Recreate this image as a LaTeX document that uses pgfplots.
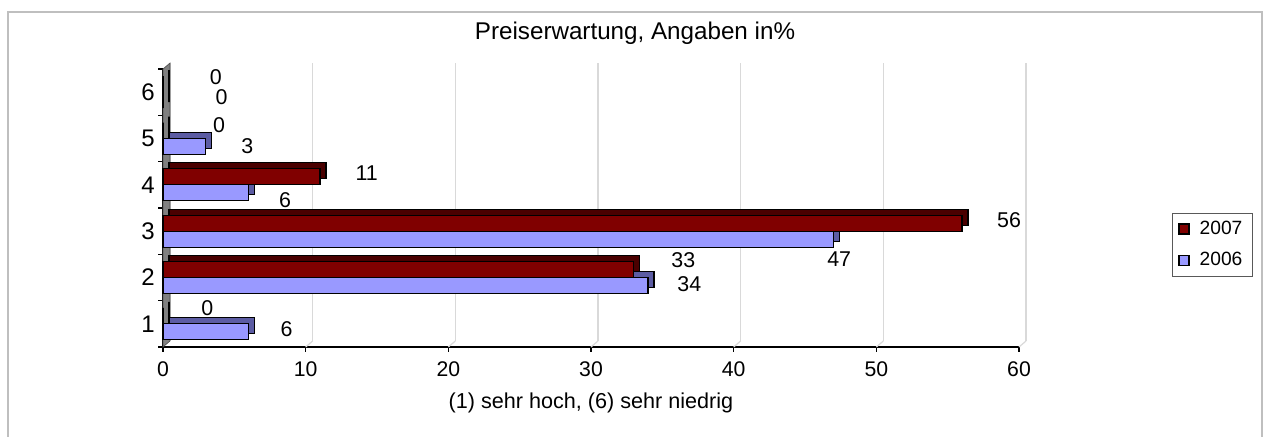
\documentclass[border=0pt]{standalone}
\usepackage{pgfplots}
\pgfplotsset{compat=1.18}
\usepackage{pgfplotstable}
\usepackage{fontspec}
\setmainfont{Liberation Sans}
\definecolor{barred}{HTML}{800000}
\definecolor{barredside}{HTML}{4A0000}
\definecolor{barblue}{HTML}{9999FF}
\definecolor{barblueside}{HTML}{5C5CA3}
\pgfplotsset{sqlegend/.style={legend image code/.code={\draw[##1, line width=0.6pt] (-1pt,-2.5pt) rectangle (4pt,2.5pt);}}}

\pgfplotstableread{
c v
1 6
2 34
3 47
4 6
5 3
6 0
}\dataA
\pgfplotstableread{
c v
1 0
2 33
3 56
4 11
5 0
6 0
}\dataB
\pgfplotstableread{
x y lab
3.11 1.34 0
36.47 2.37 33
59.30 3.23 56
14.28 4.25 11
3.93 5.29 0
3.71 6.33 0
8.67 0.89 6
36.89 1.85 34
47.40 2.40 47
8.55 3.67 6
5.91 4.84 3
4.11 5.89 0
}\labs

\begin{document}
\begin{tikzpicture}
\begin{axis}[
  scale only axis, width=428pt, height=139pt,
  xmin=0, xmax=60, ymin=0.5, ymax=6.5,
  clip=false,
  xtick={0,10,...,60},
  ytick={0.5,1.5,...,6.5}, yticklabels={1,2,3,4,5,6,},
  axis x line*=bottom, axis y line*=left,
  axis line style={black, line width=0.6pt},
  tick align=outside, major tick length=2.5pt,
  tick style={black, line width=0.6pt},
  xmajorgrids,
  grid style={gray!30, line width=0.6pt, xshift=3.5pt, yshift=3pt},
  /pgf/number format/assume math mode=true,
  x tick label style={font=\fontsize{10.6}{12}\selectfont, yshift=-1.5pt},
  y tick label style={font=\fontsize{12}{14}\selectfont, yshift=11.583pt, inner xsep=0pt, xshift=-1.5pt},
  xlabel={(1) sehr hoch, (6) sehr niedrig},
  x label style={at={(axis description cs:0.5,-0.2014)}, anchor=center, font=\fontsize{10.8}{12}\selectfont},
  title={Preiserwartung, Angaben in\%},
  title style={at={(axis description cs:0.5514,1.0863)}, anchor=center, font=\fontsize{12.1}{14}\selectfont},
  legend style={at={(axis description cs:1.1787,0.482)}, anchor=north west,
    draw=black!65, line width=0.5pt, font=\fontsize{9.6}{11}\selectfont,
    inner xsep=3pt, inner ysep=1.6pt, row sep=3.7pt,
    /tikz/every odd column/.append style={column sep=3pt}},
  legend cell align=left,
  reverse legend,
]
% left wall and floor edges
\addplot[forget plot, fill=gray, draw=black!70, line width=0.3pt] coordinates {(0,0.5) (0.4906,0.6295) (0.4906,6.6295) (0,6.5)} -- cycle;
\addplot[forget plot, gray!30, line width=0.6pt, unbounded coords=jump] coordinates {
(10,0.5) (10.4906,0.6295) (nan,nan)
(20,0.5) (20.4906,0.6295) (nan,nan)
(30,0.5) (30.4906,0.6295) (nan,nan)
(40,0.5) (40.4906,0.6295) (nan,nan)
(50,0.5) (50.4906,0.6295) (nan,nan)
(60,0.5) (60.4906,0.6295)};
% 2006 depth and front
\addplot[forget plot, xbar, bar width=8pt, bar shift=-1pt, xshift=3pt,
  fill=barblueside, draw=black, line width=0.6pt] table[x=v, y=c] {\dataA};
\addplot[xbar, bar width=8pt, bar shift=-4pt,
  fill=barblue, draw=black, line width=0.6pt, sqlegend]
  table[x=v, y=c] {\dataA};
\addlegendentry{2006}
% 2007 depth and front
\addplot[forget plot, xbar, bar width=8pt, bar shift=7pt, xshift=3pt,
  fill=barredside, draw=black, line width=0.6pt] table[x=v, y=c] {\dataB};
\addplot[xbar, bar width=8pt, bar shift=4pt,
  fill=barred, draw=black, line width=0.6pt, sqlegend]
  table[x=v, y=c] {\dataB};
\addlegendentry{2007}
% value labels
\addplot[forget plot, draw=none, mark=none,
  nodes near coords, point meta=explicit symbolic,
  every node near coord/.style={anchor=center, inner sep=0pt, font=\fontsize{10.7}{12}\selectfont}]
  table[x=x, y=y, meta=lab] {\labs};
\end{axis}
\pgfresetboundingbox
\draw[gray!50, line width=1pt] (-77.5pt,-45pt) -- (-77.5pt,167.5pt) -- (549.5pt,167.5pt) -- (549.5pt,-45pt);
\useasboundingbox (-81.5pt,-37pt) rectangle (550pt,173.5pt);
\end{tikzpicture}
\end{document}
